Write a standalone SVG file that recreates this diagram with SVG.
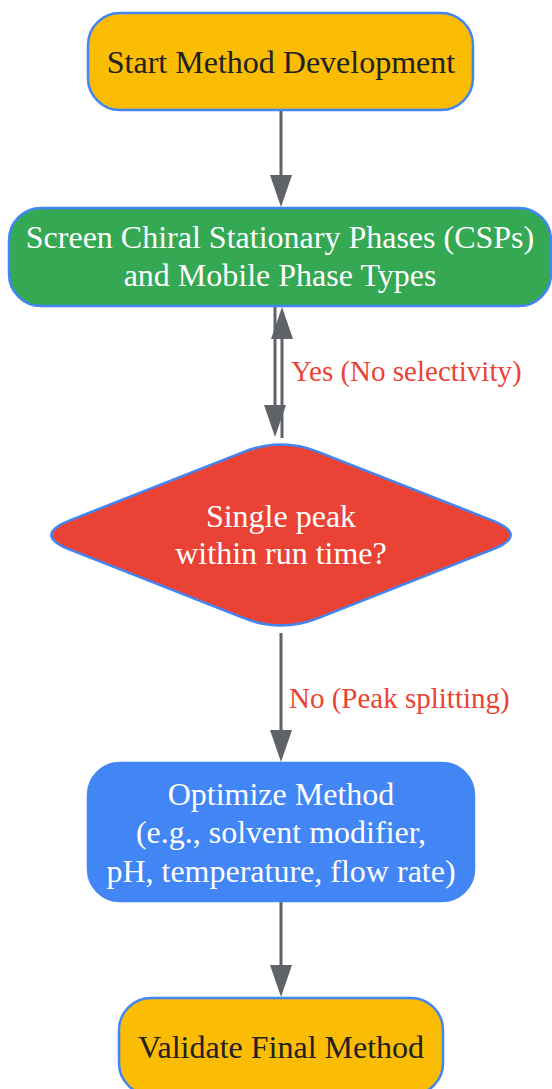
<svg xmlns="http://www.w3.org/2000/svg" width="552" height="1089" viewBox="0 0 552 1089">
<style>
.node text{font-family:"Liberation Serif","Times New Roman",serif;font-size:32px;text-anchor:middle}
.dark{fill:#202124}
.light{fill:#ffffff}
.edge{stroke:#5f6368;stroke-width:3;fill:none}
.lbl{font-family:"Liberation Serif","Times New Roman",serif;font-size:29px;fill:#ea4335}
</style>
<defs>
<marker id="arr" viewBox="0 0 32 22" refX="22" refY="11" markerWidth="32" markerHeight="22" markerUnits="userSpaceOnUse" orient="auto">
<path d="M0,0 L32,11 L0,22 Z" fill="#5f6368"/>
</marker>
</defs>
<rect width="552" height="1089" fill="#ffffff"/>
<g id="connectors">
<path class="edge" d="M281,110 L281,197" marker-end="url(#arr)"/>
<path class="edge" d="M275,306 L275,427" marker-end="url(#arr)"/>
<path class="edge" d="M282,438 L282,317" marker-end="url(#arr)"/>
<path class="edge" d="M281,633 L281,752" marker-end="url(#arr)"/>
<path class="edge" d="M281,901 L281,987" marker-end="url(#arr)"/>
<text class="lbl" x="291" y="381">Yes (No selectivity)</text>
<text class="lbl" x="289" y="708">No (Peak splitting)</text>
</g>
<g id="start" class="node">
<rect x="88" y="13" width="385" height="97" rx="32" fill="#fbbc04" stroke="#4285f4" stroke-width="2.5"/>
<text class="dark" x="281" y="73">Start Method Development</text>
</g>
<g id="screen" class="node">
<rect x="9" y="208" width="542" height="98" rx="32" fill="#34a853" stroke="#4285f4" stroke-width="2.5"/>
<text class="light" x="280" y="248">Screen Chiral Stationary Phases (CSPs)</text>
<text class="light" x="280" y="286">and Mobile Phase Types</text>
</g>
<g id="decision" class="node">
<path d="M243.8,451.9 Q281,437.2 318.2,451.9 L492.1,520.3 Q529.3,535 492.1,549.7 L318.2,618.1 Q281,632.8 243.8,618.1 L69.9,549.7 Q32.7,535 69.9,520.3 Z" fill="#ea4335" stroke="#4285f4" stroke-width="2.5"/>
<text class="light" x="281" y="527">Single peak</text>
<text class="light" x="281" y="564">within run time?</text>
</g>
<g id="optimize" class="node">
<rect x="88" y="763" width="386" height="138" rx="32" fill="#4285f4" stroke="#4285f4" stroke-width="2.5"/>
<text class="light" x="281" y="805">Optimize Method</text>
<text class="light" x="281" y="843">(e.g., solvent modifier,</text>
<text class="light" x="281" y="882">pH, temperature, flow rate)</text>
</g>
<g id="validate" class="node">
<rect x="119" y="998" width="324" height="97" rx="32" fill="#fbbc04" stroke="#4285f4" stroke-width="2.5"/>
<text class="dark" x="281" y="1058">Validate Final Method</text>
</g>
</svg>
